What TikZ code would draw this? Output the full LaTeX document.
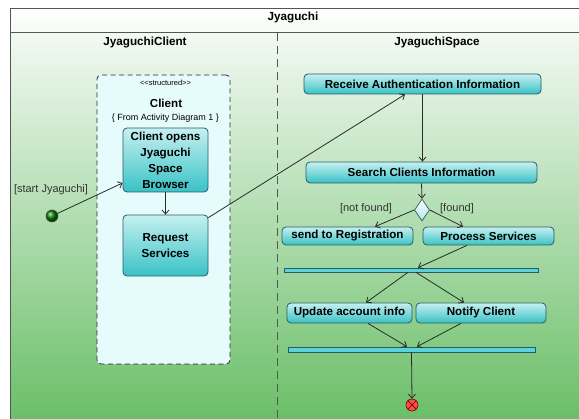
\documentclass[tikz,border=0pt]{standalone}
\usepackage{fontspec}
\setmainfont{Liberation Sans}
\usetikzlibrary{arrows.meta,shapes.geometric,calc}
\definecolor{frameline}{HTML}{555555}
\definecolor{bgtop}{HTML}{F2F9F2}
\definecolor{bgbot}{HTML}{6BBF69}
\definecolor{boxtop}{HTML}{C6F0F0}
\definecolor{boxbot}{HTML}{38C2C6}
\definecolor{boxline}{HTML}{2D5A60}
\definecolor{structfill}{HTML}{E6FCFC}
\definecolor{barfill}{HTML}{5CD2DA}
\definecolor{conn}{HTML}{2A2A2A}
\definecolor{labeltext}{HTML}{333333}
\tikzset{
  actbox/.style={draw=boxline, line width=0.8pt, rounded corners=4pt, top color=boxtop, bottom color=boxbot, inner sep=0pt, align=center, font=\fontsize{11.6}{13}\selectfont\bfseries},
  barbox/.style={draw=boxline, line width=0.7pt, fill=barfill, inner sep=0pt},
  conline/.style={draw=conn, line width=0.8pt, -{Straight Barb[length=4pt,width=7pt]}},
  guard/.style={font=\fontsize{11}{13}\selectfont, text=labeltext, inner sep=0pt},
  header/.style={font=\fontsize{11.7}{13}\selectfont\bfseries, inner sep=0pt},
}
\begin{document}
\begin{tikzpicture}[x=1pt,y=-1pt]
\useasboundingbox (0,0) rectangle (579,419);
\clip (0,0) rectangle (579,419);
\fill[white] (0,0) rectangle (579,419);
% lane background
\shade[top color=bgtop, bottom color=bgbot] (10,33) rectangle (600,419);
% title bar
\shade[top color=white, bottom color=bgtop!80!white] (10,9) rectangle (600,33);
\draw[frameline, line width=1pt] (10,440) -- (10,9) -- (600,9);
\draw[frameline, line width=1pt] (10,33) -- (600,33);
\draw[frameline, line width=0.8pt, dash pattern=on 8pt off 5pt] (277,33) -- (277,440);
\node[header] (title) at (293,18) {Jyaguchi};
\node[header] (laneA) at (145,43) {JyaguchiClient};
\node[header] (laneB) at (437,43) {JyaguchiSpace};

% structured region
\node[draw=conn, line width=0.8pt, dash pattern=on 5pt off 3.5pt, fill=structfill, rounded corners=4pt, minimum width=133pt, minimum height=289pt, inner sep=0pt] (struct) at (163.5,219.5) {};
\node[font=\fontsize{7.5}{9}\selectfont, inner sep=0pt] (stereo) at (165.5,83) {<{}<structured>{}>};
\node[font=\fontsize{11.6}{13}\selectfont\bfseries, inner sep=0pt] (sname) at (166,103) {Client};
\node[font=\fontsize{9}{10}\selectfont, inner sep=0pt] (sfrom) at (165.5,118) {\{ From Activity Diagram 1 \}};

\node[actbox, minimum width=85pt, minimum height=64pt, font=\fontsize{11.6}{16}\selectfont\bfseries] (open) at (165.5,160) {Client opens\\Jyaguchi\\Space\\Browser};
\node[actbox, minimum width=85pt, minimum height=61pt, font=\fontsize{11.6}{16}\selectfont\bfseries] (req) at (165.5,245.5) {Request\\Services};

% start node
\node[circle, draw=black!70, line width=0.6pt, ball color=green!50!black, minimum size=12pt, inner sep=0pt] (start) at (52,216) {};
\node[guard] (startlbl) at (51,190) {[start Jyaguchi]};

% JyaguchiSpace lane
\node[actbox, minimum width=237pt, minimum height=20pt] (recv) at (422.5,84) {Receive Authentication Information};
\node[actbox, minimum width=231pt, minimum height=21pt] (search) at (421.5,172.5) {Search Clients Information};
\node[diamond, draw=boxline, line width=0.7pt, top color=white, bottom color=boxtop!80!boxbot, minimum width=15pt, minimum height=22pt, inner sep=0pt, aspect=0.7] (dec) at (422,210) {};
\node[guard] (nf) at (366,209) {[not found]};
\node[guard] (fd) at (457,209) {[found]};
\node[actbox, minimum width=131pt, minimum height=18pt] (reg) at (347.5,236) {send to Registration};
\node[actbox, minimum width=131pt, minimum height=18pt] (proc) at (488.5,236) {Process Services};
\node[barbox, minimum width=254pt, minimum height=4pt] (fork) at (411,270) {};
\node[actbox, minimum width=125pt, minimum height=20pt] (upd) at (349.5,313) {Update account info};
\node[actbox, minimum width=130pt, minimum height=20pt] (notify) at (481,313) {Notify Client};
\node[barbox, minimum width=247pt, minimum height=5pt] (join) at (411.5,349.5) {};
\node[circle, draw=red!45!black, line width=0.6pt, fill=red!70!white, minimum size=12pt, inner sep=0pt,
  path picture={\draw[red!40!black, line width=0.7pt] (path picture bounding box.north west) -- (path picture bounding box.south east) (path picture bounding box.north east) -- (path picture bounding box.south west);}] (final) at (412,405) {};

% connectors
\draw[conline] (start) -- ($(open.west)+(0,23)$);
\draw[conline] (open) -- (req);
\draw[conline] ($(req.north east)+(0,3)$) -- ($(recv.south)+(-17.5,0)$);
\draw[conline] (recv.south) -- (search.north -| recv.south);
\draw[conline] (search.south) -- (dec.north);
\draw[conline] (dec.west) -- ($(reg.north)+(27.5,0)$);
\draw[conline] (dec.east) -- ($(proc.north)+(-25.5,0)$);
\draw[conline] ($(proc.south)+(-21.5,0)$) -- ($(fork.north)+(7,0)$);
\draw[conline] ($(fork.south)+(-3,0)$) -- ($(upd.north)+(16.5,0)$);
\draw[conline] ($(fork.south)+(5,0)$) -- ($(notify.north)+(-17,0)$);
\draw[conline] ($(upd.south)+(18.5,0)$) -- ($(join.north)+(-4.5,0)$);
\draw[conline] ($(notify.south)+(-20,0)$) -- ($(join.north)+(5.5,0)$);
\draw[conline] (join.south) -- (final.north);
\end{tikzpicture}
\end{document}
